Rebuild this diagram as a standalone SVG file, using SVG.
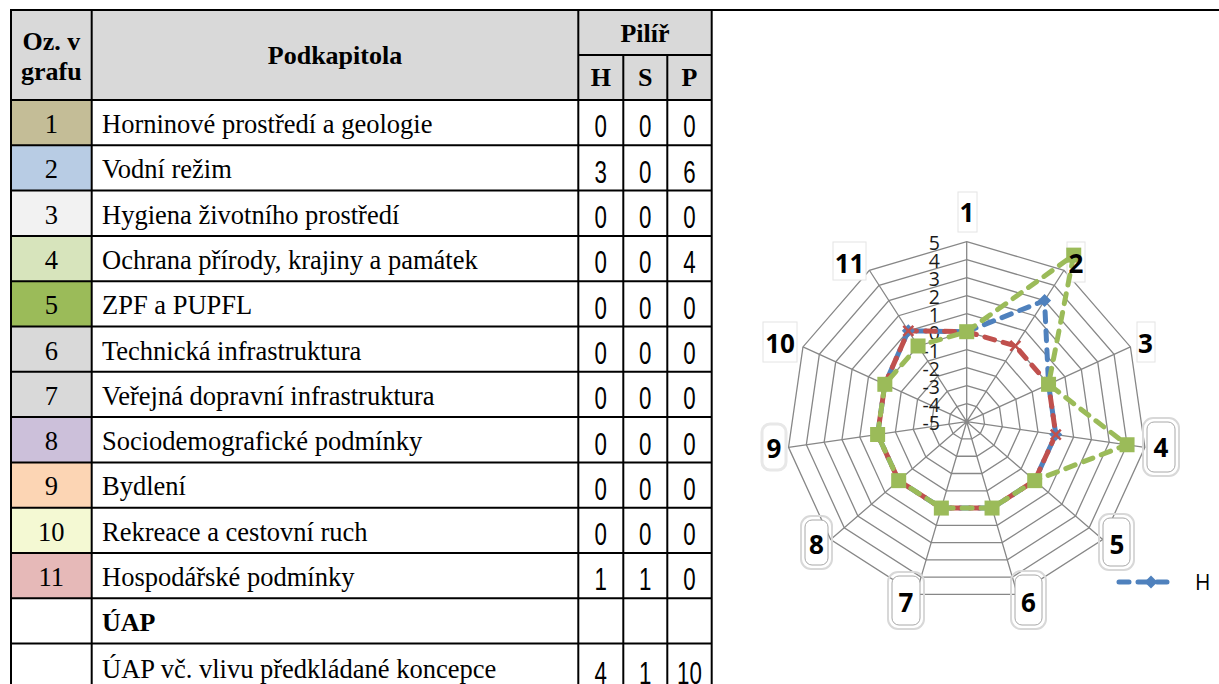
<svg xmlns="http://www.w3.org/2000/svg" width="1219" height="684" viewBox="0 0 1219 684">
<style>
.ln{stroke:#000;stroke-width:2;fill:none}
.sr{font-family:"Liberation Serif","Times New Roman",serif;font-size:26.5px;fill:#000}
.srb{font-family:"Liberation Serif","Times New Roman",serif;font-size:26px;font-weight:bold;fill:#000}
.num{font-family:"Liberation Sans",Arial,sans-serif;font-size:31px;fill:#000;text-anchor:middle}
.c{text-anchor:middle}
.grid{fill:none;stroke:#878787;stroke-width:1.3}
.tick{font-family:"Open Sans","Liberation Sans",sans-serif;font-size:19.5px;fill:#1a1a1a;text-anchor:end}
.ax{font-family:"Open Sans","Liberation Sans",sans-serif;font-size:26px;font-weight:bold;fill:#000;text-anchor:middle}
.bx{fill:#fff;stroke:#e4e4e4;stroke-width:1}
.bxr{fill:#fff;stroke:#a8a8a8;stroke-width:1}
.bxo{fill:none;stroke:#d8d8d8;stroke-width:2}
.sH{fill:none;stroke:#4F81BD;stroke-width:5;stroke-dasharray:10 9;stroke-linecap:round;stroke-linejoin:round}
.sS{fill:none;stroke:#C0504D;stroke-width:5;stroke-dasharray:10 9;stroke-linecap:round;stroke-linejoin:round}
.sP{fill:none;stroke:#9BBB59;stroke-width:5;stroke-dasharray:10 9;stroke-linecap:round;stroke-linejoin:round}
.mH{fill:#4F81BD}
.mS{stroke:#C0504D;stroke-width:2.5;fill:none}
.mP{fill:#9BBB59}
</style>
<defs>
<path id="dia" d="M0,-6.5 L6.5,0 L0,6.5 L-6.5,0 Z"/>
<path id="xx" d="M-5,-5 L5,5 M-5,5 L5,-5"/>
<rect id="sq" x="-7.5" y="-7.5" width="15" height="15"/>
</defs>
<rect width="1219" height="684" fill="#fff"/>

<g id="table">
<rect x="11" y="10" width="700.7" height="90" fill="#D9D9D9"/>
<g id="cellcolors">
<rect x="11" y="100" width="80.7" height="45.3" fill="#C4BD97"/>
<rect x="11" y="145.3" width="80.7" height="45.3" fill="#B8CCE4"/>
<rect x="11" y="190.6" width="80.7" height="45.3" fill="#F2F2F2"/>
<rect x="11" y="235.9" width="80.7" height="45.3" fill="#D7E4BC"/>
<rect x="11" y="281.2" width="80.7" height="45.3" fill="#9BBB59"/>
<rect x="11" y="326.5" width="80.7" height="45.3" fill="#D9D9D9"/>
<rect x="11" y="371.8" width="80.7" height="45.3" fill="#D9D9D9"/>
<rect x="11" y="417.1" width="80.7" height="45.3" fill="#CCC0DA"/>
<rect x="11" y="462.4" width="80.7" height="45.3" fill="#FCD5B4"/>
<rect x="11" y="507.7" width="80.7" height="45.3" fill="#F4F9D3"/>
<rect x="11" y="553" width="80.7" height="45.3" fill="#E6B9B8"/>
</g>
<g id="tablelines" class="ln">
<line x1="10" y1="10" x2="1219" y2="10"/>
<line x1="578.3" y1="55" x2="711.7" y2="55"/>
<line x1="10" y1="100" x2="711.7" y2="100"/>
<line x1="10" y1="145.3" x2="711.7" y2="145.3"/>
<line x1="10" y1="190.6" x2="711.7" y2="190.6"/>
<line x1="10" y1="235.9" x2="711.7" y2="235.9"/>
<line x1="10" y1="281.2" x2="711.7" y2="281.2"/>
<line x1="10" y1="326.5" x2="711.7" y2="326.5"/>
<line x1="10" y1="371.8" x2="711.7" y2="371.8"/>
<line x1="10" y1="417.1" x2="711.7" y2="417.1"/>
<line x1="10" y1="462.4" x2="711.7" y2="462.4"/>
<line x1="10" y1="507.7" x2="711.7" y2="507.7"/>
<line x1="10" y1="553" x2="711.7" y2="553"/>
<line x1="10" y1="598.3" x2="711.7" y2="598.3"/>
<line x1="10" y1="643.6" x2="711.7" y2="643.6"/>
<line x1="11" y1="10" x2="11" y2="684"/>
<line x1="91.7" y1="10" x2="91.7" y2="684"/>
<line x1="578.3" y1="10" x2="578.3" y2="684"/>
<line x1="623.3" y1="55" x2="623.3" y2="684"/>
<line x1="667.3" y1="55" x2="667.3" y2="684"/>
<line x1="711.7" y1="10" x2="711.7" y2="684"/>
</g>
<g id="header">
<text class="srb c" x="51.3" y="50">Oz. v</text>
<text class="srb c" x="51.3" y="80">grafu</text>
<text class="srb c" x="335" y="64">Podkapitola</text>
<text class="srb c" x="645" y="42">Pilíř</text>
<text class="srb c" x="600.8" y="86">H</text>
<text class="srb c" x="645.3" y="86">S</text>
<text class="srb c" x="689.5" y="86">P</text>
</g>
<g id="col1" class="sr c">
<text x="51.3" y="133">1</text>
<text x="51.3" y="178.3">2</text>
<text x="51.3" y="223.6">3</text>
<text x="51.3" y="268.9">4</text>
<text x="51.3" y="314.2">5</text>
<text x="51.3" y="359.5">6</text>
<text x="51.3" y="404.8">7</text>
<text x="51.3" y="450.1">8</text>
<text x="51.3" y="495.4">9</text>
<text x="51.3" y="540.7">10</text>
<text x="51.3" y="586">11</text>
</g>
<g id="col2">
<text class="sr" x="102" y="133">Horninové prostředí a geologie</text>
<text class="sr" x="102" y="178.3">Vodní režim</text>
<text class="sr" x="102" y="223.6">Hygiena životního prostředí</text>
<text class="sr" x="102" y="268.9">Ochrana přírody, krajiny a památek</text>
<text class="sr" x="102" y="314.2">ZPF a PUPFL</text>
<text class="sr" x="102" y="359.5">Technická infrastruktura</text>
<text class="sr" x="102" y="404.8">Veřejná dopravní infrastruktura</text>
<text class="sr" x="102" y="450.1">Sociodemografické podmínky</text>
<text class="sr" x="102" y="495.4">Bydlení</text>
<text class="sr" x="102" y="540.7">Rekreace a cestovní ruch</text>
<text class="sr" x="102" y="586">Hospodářské podmínky</text>
<text class="srb" x="102" y="631.3">ÚAP</text>
<text class="sr" x="102" y="678">ÚAP vč. vlivu předkládané koncepce</text>
</g>
<g id="values">
<g transform="translate(600.8,0) scale(0.72,1)">
<text class="num" x="0" y="137.5">0</text><text class="num" x="0" y="182.8">3</text><text class="num" x="0" y="228.1">0</text><text class="num" x="0" y="273.4">0</text><text class="num" x="0" y="318.7">0</text><text class="num" x="0" y="364">0</text><text class="num" x="0" y="409.3">0</text><text class="num" x="0" y="454.6">0</text><text class="num" x="0" y="499.9">0</text><text class="num" x="0" y="545.2">0</text><text class="num" x="0" y="590.5">1</text><text class="num" x="0" y="684">4</text>
</g>
<g transform="translate(645.3,0) scale(0.72,1)">
<text class="num" x="0" y="137.5">0</text><text class="num" x="0" y="182.8">0</text><text class="num" x="0" y="228.1">0</text><text class="num" x="0" y="273.4">0</text><text class="num" x="0" y="318.7">0</text><text class="num" x="0" y="364">0</text><text class="num" x="0" y="409.3">0</text><text class="num" x="0" y="454.6">0</text><text class="num" x="0" y="499.9">0</text><text class="num" x="0" y="545.2">0</text><text class="num" x="0" y="590.5">1</text><text class="num" x="0" y="684">1</text>
</g>
<g transform="translate(689.5,0) scale(0.72,1)">
<text class="num" x="0" y="137.5">0</text><text class="num" x="0" y="182.8">6</text><text class="num" x="0" y="228.1">0</text><text class="num" x="0" y="273.4">4</text><text class="num" x="0" y="318.7">0</text><text class="num" x="0" y="364">0</text><text class="num" x="0" y="409.3">0</text><text class="num" x="0" y="454.6">0</text><text class="num" x="0" y="499.9">0</text><text class="num" x="0" y="545.2">0</text><text class="num" x="0" y="590.5">0</text><text class="num" x="0" y="684">10</text>
</g>
</g>
</g>

<g id="radar">
<g id="grid" class="grid" transform="translate(966.7,421.7)">
<polygon points="0,-18 9.73,-15.14 16.37,-7.48 17.82,2.56 13.60,11.79 5.07,17.27 -5.07,17.27 -13.60,11.79 -17.82,2.56 -16.37,-7.48 -9.73,-15.14"/>
<polygon points="0,-36 19.46,-30.29 32.75,-14.96 35.63,5.12 27.21,23.57 10.14,34.54 -10.14,34.54 -27.21,23.57 -35.63,5.12 -32.75,-14.96 -19.46,-30.29"/>
<polygon points="0,-54 29.19,-45.43 49.12,-22.43 53.45,7.68 40.81,35.36 15.21,51.81 -15.21,51.81 -40.81,35.36 -53.45,7.68 -49.12,-22.43 -29.19,-45.43"/>
<polygon points="0,-72 38.93,-60.57 65.49,-29.91 71.27,10.25 54.41,47.15 20.28,69.08 -20.28,69.08 -54.41,47.15 -71.27,10.25 -65.49,-29.91 -38.93,-60.57"/>
<polygon points="0,-90 48.66,-75.71 81.87,-37.39 89.08,12.81 68.02,58.94 25.36,86.35 -25.36,86.35 -68.02,58.94 -89.08,12.81 -81.87,-37.39 -48.66,-75.71"/>
<polygon points="0,-108 58.39,-90.86 98.24,-44.87 106.90,15.37 81.62,70.72 30.43,103.62 -30.43,103.62 -81.62,70.72 -106.90,15.37 -98.24,-44.87 -58.39,-90.86"/>
<polygon points="0,-126 68.12,-106.0 114.61,-52.34 124.72,17.93 95.22,82.51 35.50,120.90 -35.50,120.90 -95.22,82.51 -124.72,17.93 -114.61,-52.34 -68.12,-106.0"/>
<polygon points="0,-144 77.85,-121.14 130.99,-59.82 142.53,20.49 108.83,94.30 40.57,138.17 -40.57,138.17 -108.83,94.30 -142.53,20.49 -130.99,-59.82 -77.85,-121.14"/>
<polygon points="0,-162 87.58,-136.28 147.36,-67.30 160.35,23.05 122.43,106.09 45.64,155.44 -45.64,155.44 -122.43,106.09 -160.35,23.05 -147.36,-67.30 -87.58,-136.28"/>
<polygon points="0,-180 97.32,-151.43 163.73,-74.78 178.17,25.62 136.04,117.87 50.71,172.71 -50.71,172.71 -136.04,117.87 -178.17,25.62 -163.73,-74.78 -97.32,-151.43"/>
<path d="M0,0 L0,-180 M0,0 L97.32,-151.43 M0,0 L163.73,-74.78 M0,0 L178.17,25.62 M0,0 L136.04,117.87 M0,0 L50.71,172.71 M0,0 L-50.71,172.71 M0,0 L-136.04,117.87 M0,0 L-178.17,25.62 M0,0 L-163.73,-74.78 M0,0 L-97.32,-151.43"/>
</g>
<g id="ticks" class="tick">
<text x="940" y="250">5</text>
<text x="940" y="268">4</text>
<text x="940" y="286">3</text>
<text x="940" y="304">2</text>
<text x="940" y="322">1</text>
<text x="940" y="340">0</text>
<text x="940" y="358">-1</text>
<text x="940" y="376">-2</text>
<text x="940" y="394">-3</text>
<text x="940" y="412">-4</text>
<text x="940" y="430">-5</text>
</g>
<g id="labelboxes">
<rect class="bx" x="958" y="192" width="19" height="40"/>
<rect class="bx" x="1067" y="242" width="18" height="40"/>
<rect class="bx" x="1137" y="322" width="18" height="40"/>
<rect class="bxo" x="1143" y="418" width="36" height="58" rx="10"/>
<rect class="bxr" x="1147" y="422" width="28" height="50" rx="7"/>
<rect class="bxo" x="1099" y="514" width="35" height="56" rx="10"/>
<rect class="bxr" x="1103" y="518" width="27" height="48" rx="7"/>
<rect class="bxo" x="1011" y="571" width="35" height="58" rx="10"/>
<rect class="bxr" x="1015" y="575" width="27" height="50" rx="7"/>
<rect class="bxo" x="888" y="572" width="36" height="57" rx="10"/>
<rect class="bxr" x="892" y="576" width="28" height="49" rx="7"/>
<rect class="bxo" x="801" y="516" width="31" height="53" rx="10"/>
<rect class="bxr" x="805" y="520" width="23" height="45" rx="7"/>
<rect x="762" y="424" width="24" height="46" rx="8" fill="#fff" stroke="#e8e8e8" stroke-width="3"/>
<rect class="bx" x="763" y="322" width="34" height="40"/>
<rect class="bx" x="833" y="242" width="33" height="38"/>
</g>
</g>

<g id="connectors">
<polygon class="sH" points="966.7,331.7 1044.55,300.55 1048.56,384.31 1055.78,434.51 1034.71,480.64 992.05,508.06 941.35,508.06 898.69,480.64 877.62,434.51 884.84,384.31 908.32,330.84"/>
<polygon class="sS" points="966.7,331.7 1015.35,345.98 1048.56,384.31 1055.78,434.51 1034.71,480.64 992.05,508.06 941.35,508.06 898.69,480.64 877.62,434.51 884.84,384.31 908.32,330.84"/>
<g id="markersH" class="mH">
<use href="#dia" x="966.7" y="331.7"/><use href="#dia" x="1044.55" y="300.55"/><use href="#dia" x="1048.56" y="384.31"/><use href="#dia" x="1055.78" y="434.51"/><use href="#dia" x="1034.71" y="480.64"/><use href="#dia" x="992.05" y="508.06"/><use href="#dia" x="941.35" y="508.06"/><use href="#dia" x="898.69" y="480.64"/><use href="#dia" x="877.62" y="434.51"/><use href="#dia" x="884.84" y="384.31"/><use href="#dia" x="908.32" y="330.84"/>
</g>
<g id="markersS" class="mS">
<use href="#xx" x="966.7" y="331.7"/><use href="#xx" x="1015.35" y="345.98"/><use href="#xx" x="1048.56" y="384.31"/><use href="#xx" x="1055.78" y="434.51"/><use href="#xx" x="1034.71" y="480.64"/><use href="#xx" x="992.05" y="508.06"/><use href="#xx" x="941.35" y="508.06"/><use href="#xx" x="898.69" y="480.64"/><use href="#xx" x="877.62" y="434.51"/><use href="#xx" x="884.84" y="384.31"/><use href="#xx" x="908.32" y="330.84"/>
</g>
<polygon class="sP" points="966.7,331.7 1073.74,255.12 1048.56,384.31 1127.05,444.75 1034.71,480.64 992.05,508.06 941.35,508.06 898.69,480.64 877.62,434.51 884.84,384.31 918.05,345.98"/>
<g id="markersP" class="mP">
<use href="#sq" x="966.7" y="331.7"/><use href="#sq" x="1073.74" y="255.12"/><use href="#sq" x="1048.56" y="384.31"/><use href="#sq" x="1127.05" y="444.75"/><use href="#sq" x="1034.71" y="480.64"/><use href="#sq" x="992.05" y="508.06"/><use href="#sq" x="941.35" y="508.06"/><use href="#sq" x="898.69" y="480.64"/><use href="#sq" x="877.62" y="434.51"/><use href="#sq" x="884.84" y="384.31"/><use href="#sq" x="918.05" y="345.98"/>
</g>
</g>

<g id="axislabels" class="ax">
<text x="967" y="222">1</text>
<text x="1076" y="273">2</text>
<text x="1145.5" y="353">3</text>
<text x="1161" y="457">4</text>
<text x="1117" y="554">5</text>
<text x="1028.5" y="611.5">6</text>
<text x="906" y="611.5">7</text>
<text x="816.5" y="554">8</text>
<text x="774" y="458">9</text>
<text x="780" y="353">10</text>
<text x="849.5" y="273">11</text>
</g>

<g id="legend">
<line class="sH" x1="1119" y1="582" x2="1176" y2="582"/>
<use href="#dia" x="1151" y="582" class="mH"/>
<text x="1195" y="590" font-family="'Open Sans','Liberation Sans',sans-serif" font-size="21" fill="#000">H</text>
</g>
</svg>
